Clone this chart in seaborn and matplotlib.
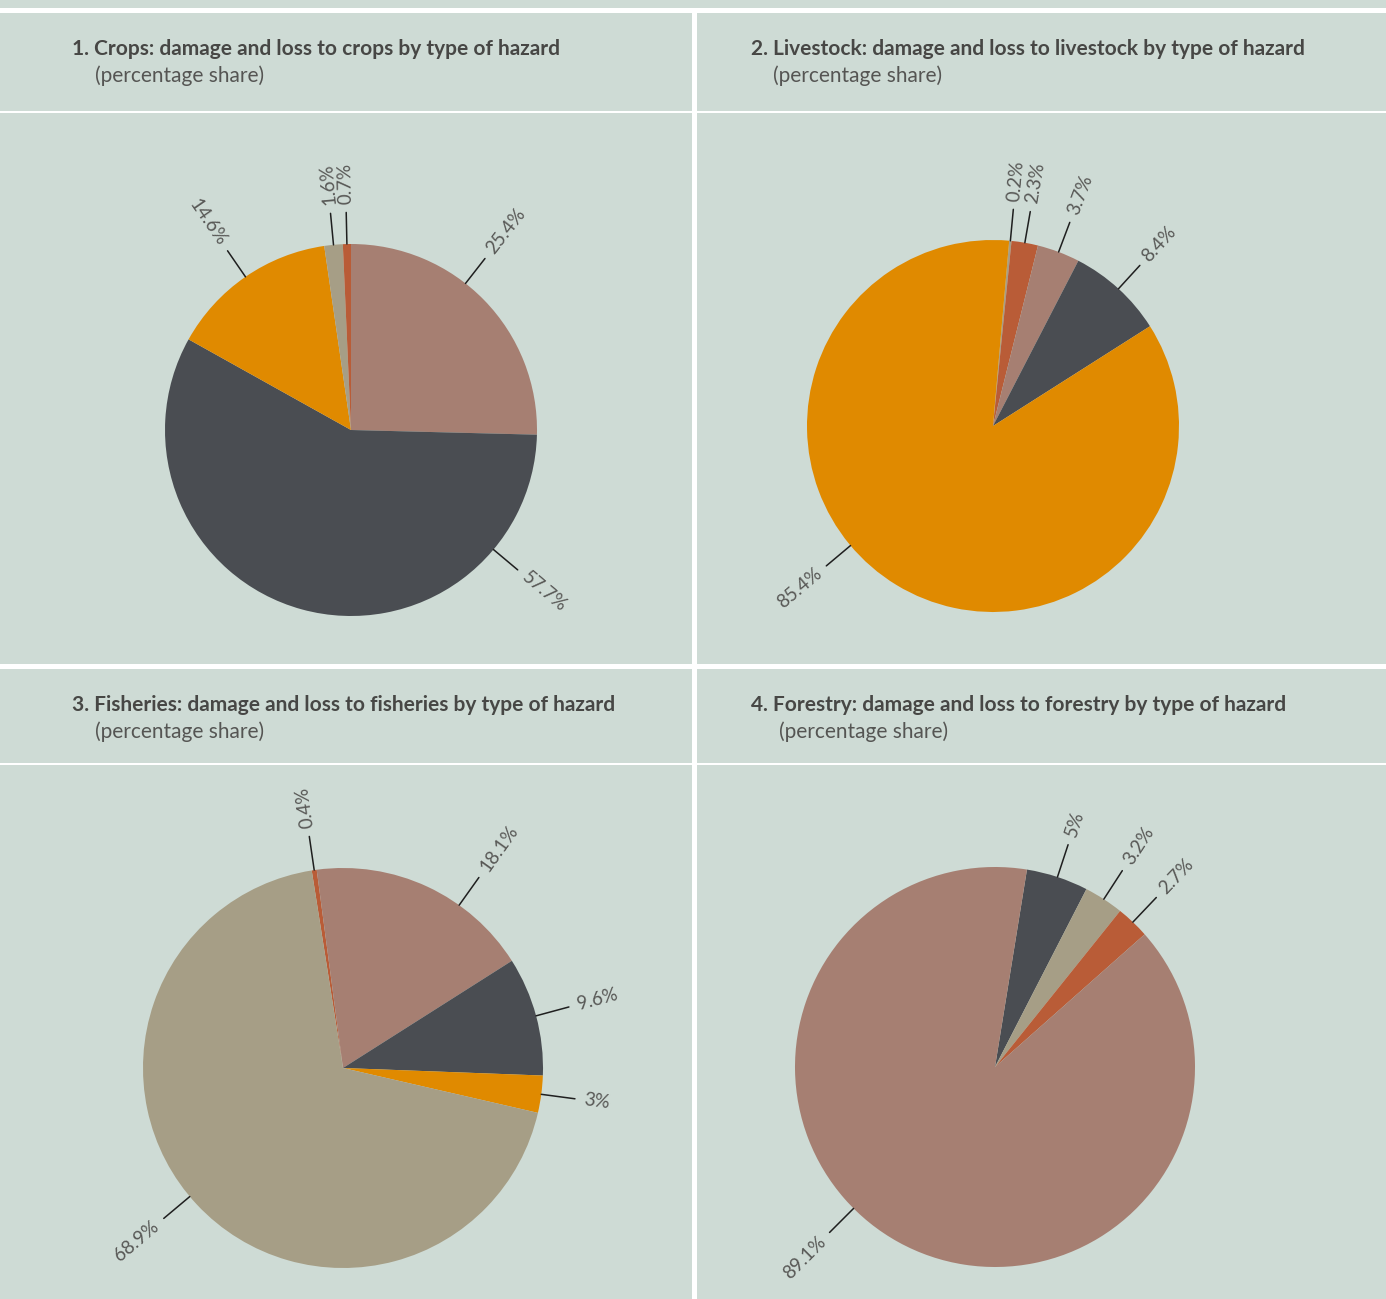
import matplotlib.pyplot as plt
import seaborn as sns
import numpy as np
from matplotlib.patches import Rectangle

W, H = 1386, 1299
BG = "#cedbd5"

# data, one list per pie, in clockwise order from the first slice
titles = [
    "1. Crops: damage and loss to crops by type of hazard",
    "2. Livestock: damage and loss to livestock by type of hazard",
    "3. Fisheries: damage and loss to fisheries by type of hazard",
    "4. Forestry: damage and loss to forestry by type of hazard",
]
subtitle = "(percentage share)"

crops_values = [25.4, 57.7, 14.6, 1.6, 0.7]
livestock_values = [0.2, 2.3, 3.7, 8.4, 85.4]
fisheries_values = [0.4, 18.1, 9.6, 3, 68.9]
forestry_values = [5, 3.2, 2.7, 89.1]

# style
palette = {
    "rose": "#a67f72",
    "dark": "#4a4d52",
    "orange": "#e08a00",
    "khaki": "#a69e86",
    "red": "#b95c37",
}
crops_colors = ["rose", "dark", "orange", "khaki", "red"]
livestock_colors = ["khaki", "red", "rose", "dark", "orange"]
fisheries_colors = ["red", "rose", "dark", "orange", "khaki"]
forestry_colors = ["dark", "khaki", "red", "rose"]

sns.set_style("white", {"axes.facecolor": BG, "figure.facecolor": BG})
plt.rcParams["font.family"] = ["Lato", "DejaVu Sans"]

fig = plt.figure(figsize=(W / 100, H / 100), dpi=100)
fig.patch.set_facecolor(BG)


def fx(x):
    return x / W


def fy(y):
    return 1 - y / H


def white_rect(x0, y0, x1, y1):
    fig.add_artist(Rectangle((fx(x0), fy(y1)), fx(x1) - fx(x0), fy(y0) - fy(y1),
                             transform=fig.transFigure, facecolor="white",
                             edgecolor="none", zorder=0))


# panel frame lines
white_rect(0, 8, W, 13)
white_rect(692, 8, 697, H)
white_rect(0, 664, W, 669)
white_rect(0, 111, W, 113)
white_rect(0, 763, W, 765)

# (values, colors, center x, center y, radius, start angle clockwise from north,
#  title x, subtitle x, title y, label angle overrides clockwise from north)
panels = [
    (crops_values, crops_colors, 351, 430, 186, 0, 72, 95, 49, {0: 38, 1: 130}),
    (livestock_values, livestock_colors, 993, 426, 186, 5, 751, 773, 49, {4: 230}),
    (fisheries_values, fisheries_colors, 343, 1068, 200, -9, 72, 95, 705,
     {1: 35.5, 4: 230}),
    (forestry_values, forestry_colors, 995, 1067, 200, 9.2, 751, 779, 705, {3: 225}),
]

L = 1.7
for title, (vals, cols, cx, cy, r, start, tx, sx, ty, moved) in zip(titles, panels):
    fig.text(fx(tx), fy(ty), title, fontsize=15, fontweight="bold",
             color="#474745", ha="left", va="center")
    fig.text(fx(sx), fy(ty + 27), subtitle, fontsize=15, color="#555553",
             ha="left", va="center")

    size = 2 * L * r
    ax = fig.add_axes([fx(cx - size / 2), fy(cy + size / 2), size / W, size / H])
    ax.set_facecolor("none")
    wedges, _ = ax.pie(vals, colors=[palette[c] for c in cols],
                       startangle=90 - start, counterclock=False,
                       wedgeprops={"linewidth": 0})
    for i, (w, v) in enumerate(zip(wedges, vals)):
        mid = (w.theta1 + w.theta2) / 2
        if i in moved:
            mid = 90 - moved[i]
        th = np.deg2rad(mid)
        c, s = np.cos(th), np.sin(th)
        ax.plot([1.0 * c, 1.17 * c], [1.0 * s, 1.17 * s], color="#1f1f1f", lw=1.1)
        right = c > -0.2
        rot = mid if right else mid + 180
        ax.text(1.215 * c, 1.215 * s, f"{v:g}%", rotation=rot, rotation_mode="anchor",
                ha="left" if right else "right", va="center", fontsize=13.5,
                color="#585856")
    ax.set_xlim(-L, L)
    ax.set_ylim(-L, L)
    ax.set_aspect("equal")
    ax.axis("off")

fig.savefig("out.png", dpi=100, facecolor=BG)
